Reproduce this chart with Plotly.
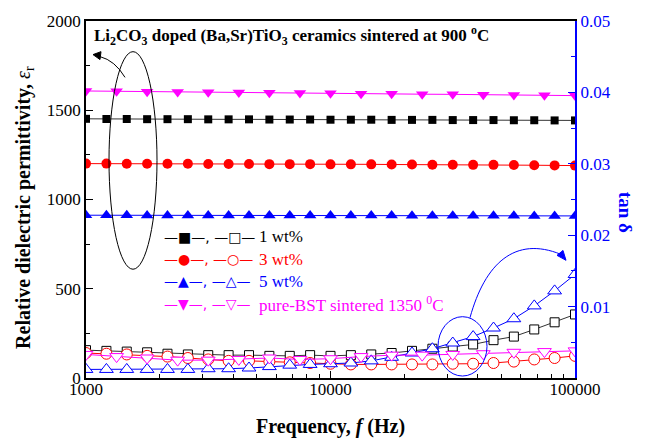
import plotly.graph_objects as go

# ---- data ----
freq25 = [1000, 1212, 1468, 1778, 2154, 2610, 3162, 3831, 4642, 5623, 6813, 8254,
          10000, 12115, 14678, 17783, 21544, 26102, 31623, 38312, 46416, 56234,
          68129, 82540, 100000]
freq17 = [1000, 1334, 1778, 2371, 3162, 4217, 5623, 7499, 10000, 13335, 17783,
          23714, 31623, 42170, 56234, 74989, 100000]

eps_1wt = [1452, 1451, 1451, 1450, 1450, 1450, 1449, 1449, 1449, 1448, 1448, 1448, 1447,
           1447, 1447, 1446, 1446, 1446, 1445, 1445, 1445, 1444, 1444, 1443, 1443]
eps_3wt = [1201, 1201, 1200, 1200, 1200, 1200, 1199, 1199, 1199, 1198, 1198, 1198, 1197,
           1197, 1197, 1196, 1196, 1195, 1195, 1194, 1194, 1193, 1192, 1191, 1190]
eps_5wt = [912, 912, 912, 911, 911, 911, 911, 911, 911, 910, 910, 910, 910,
           910, 910, 910, 909, 909, 909, 909, 909, 909, 908, 908, 908]
eps_bst = [1608, 1606, 1604, 1602, 1601, 1599, 1598, 1596, 1595, 1593, 1592, 1590,
           1589, 1587, 1586, 1584, 1582]

tan_1wt = [0.0039, 0.0038, 0.0037, 0.0036, 0.0034, 0.0033, 0.0032, 0.0032, 0.0032, 0.0031,
           0.0031, 0.0032, 0.0031, 0.0032, 0.0033, 0.0035, 0.0038, 0.0041, 0.0044, 0.0047,
           0.0053, 0.0058, 0.0068, 0.0078, 0.0089]
tan_3wt = [0.0035, 0.0034, 0.0033, 0.0031, 0.0030, 0.0028, 0.0026, 0.0024, 0.0024, 0.0023,
           0.0022, 0.0021, 0.0020, 0.0019, 0.0019, 0.0019, 0.0019, 0.0019, 0.0020, 0.0020,
           0.0021, 0.0023, 0.0026, 0.0028, 0.0031]
tan_5wt = [0.0012, 0.0012, 0.0012, 0.0012, 0.0012, 0.0012, 0.0013, 0.0013, 0.0014, 0.0016,
           0.0018, 0.0019, 0.0020, 0.0021, 0.0024, 0.0029, 0.0035, 0.0041, 0.0049, 0.0058,
           0.0070, 0.0083, 0.0101, 0.0122, 0.0145]
tan_bst = [0.0033, 0.0030, 0.0028, 0.0025, 0.0025, 0.0026, 0.0028, 0.0026, 0.0027, 0.0030,
           0.0032, 0.0032, 0.0033, 0.0034, 0.0036, 0.0037, 0.0038]

left_ticks = [0, 500, 1000, 1500, 2000]
right_ticks = [0.01, 0.02, 0.03, 0.04, 0.05]
x_ticks = [1000, 10000, 100000]
x_minor_ticks = [2000, 3000, 4000, 5000, 6000, 7000, 8000, 9000,
                 20000, 30000, 40000, 50000, 60000, 70000, 80000, 90000]

BLACK, RED, BLUE, MAG = "#000000", "#ff0000", "#0000ff", "#ff00ff"
FONT = "Liberation Serif"

fig = go.Figure()

series = [
    (freq25, eps_1wt, tan_1wt, BLACK, "#333333", "square", 8, 9),
    (freq25, eps_3wt, tan_3wt, RED, RED, "circle", 10, 11),
    (freq25, eps_5wt, tan_5wt, BLUE, BLUE, "triangle-up", 11, 12),
    (freq17, eps_bst, tan_bst, MAG, MAG, "triangle-down", 11, 12),
]

for fx, e, t, c, lc, sym, s1, s2 in series:
    fig.add_trace(go.Scatter(x=fx, y=t, yaxis="y2", mode="lines+markers",
                             line=dict(color=lc, width=1),
                             marker=dict(symbol=sym, size=s2, color="white",
                                         line=dict(color=c, width=1)),
                             showlegend=False))
for fx, e, t, c, lc, sym, s1, s2 in series:
    fig.add_trace(go.Scatter(x=fx, y=e, mode="lines+markers",
                             line=dict(color=lc, width=1),
                             marker=dict(symbol=sym, size=s1, color=c,
                                         line=dict(width=0)),
                             showlegend=False))

L, R, T, B = 86, 575, 17, 378


def px(x):
    return (x - L) / (R - L)


def py(y):
    return (B - y) / (B - T)


shapes = []
shapes.append(dict(type="circle", xref="paper", yref="paper",
                   x0=px(109), x1=px(157), y0=py(268), y1=py(48),
                   line=dict(color=BLACK, width=1)))
shapes.append(dict(type="circle", xref="paper", yref="paper",
                   x0=px(438), x1=px(487), y0=py(376), y1=py(316),
                   line=dict(color=BLUE, width=1)))
shapes.append(dict(type="path", xref="paper", yref="paper",
                   path=f"M {px(125)},{py(74)} Q {px(115)},{py(57)} {px(100)},{py(53)}",
                   line=dict(color=BLACK, width=1)))
shapes.append(dict(type="path", xref="paper", yref="paper",
                   path=f"M {px(93)},{py(51)} L {px(101)},{py(48)} L {px(100)},{py(56)} Z",
                   fillcolor=BLACK, line=dict(color=BLACK, width=1)))
shapes.append(dict(type="path", xref="paper", yref="paper",
                   path=f"M {px(470)},{py(317)} C {px(485)},{py(262)} {px(515)},{py(234)} {px(561)},{py(253)}",
                   line=dict(color=BLUE, width=1)))
shapes.append(dict(type="path", xref="paper", yref="paper",
                   path=f"M {px(566)},{py(259)} L {px(557)},{py(254)} L {px(563)},{py(249)} Z",
                   fillcolor=BLUE, line=dict(color=BLUE, width=1)))

ann = []
ann.append(dict(xref="paper", yref="paper", x=px(92), y=py(32), xanchor="left", yanchor="middle",
                showarrow=False,
                text="<b>Li<sub>2</sub>CO<sub>3</sub> doped (Ba,Sr)TiO<sub>3</sub> ceramics sintered at 900 <sup>o</sup>C</b>",
                font=dict(family=FONT, size=17, color=BLACK)))
legend_rows = [
    ("—■—, —□—", "1 wt%", BLACK, 235),
    ("—●—, —○—", "3 wt%", RED, 258),
    ("—▲—, —△—", "5 wt%", BLUE, 280),
    ("—▼—, —▽—", "pure-BST sintered 1350 <sup>0</sup>C", MAG, 303),
]
for sym, lab, c, yy in legend_rows:
    ann.append(dict(xref="paper", yref="paper", x=px(162), y=py(yy), xanchor="left", yanchor="middle",
                    showarrow=False, text=sym,
                    font=dict(family="DejaVu Sans", size=14, color=c)))
    ann.append(dict(xref="paper", yref="paper", x=px(257), y=py(yy), xanchor="left", yanchor="middle",
                    showarrow=False, text=lab,
                    font=dict(family=FONT, size=17, color=c)))
ann.append(dict(xref="paper", yref="paper", x=px(25), y=py(206), xanchor="center", yanchor="middle",
                showarrow=False, textangle=-90,
                text="<b>Relative dielectric permittivity, </b><i>ε</i><sub>r</sub>",
                font=dict(family=FONT, size=20, color=BLACK)))
ann.append(dict(xref="paper", yref="paper", x=px(330), y=py(427), xanchor="center", yanchor="middle",
                showarrow=False,
                text="<b>Frequency, <i>f</i> (Hz)</b>",
                font=dict(family=FONT, size=20, color=BLACK)))
ann.append(dict(xref="paper", yref="paper", x=px(625), y=py(210), xanchor="center", yanchor="middle",
                showarrow=False, textangle=90,
                text="<b>tan δ</b>",
                font=dict(family=FONT, size=19, color=BLUE)))

fig.update_layout(
    width=647, height=440,
    margin=dict(l=L, r=647 - R, t=T, b=440 - B),
    plot_bgcolor="white", paper_bgcolor="white",
    font=dict(family=FONT, size=17, color=BLACK),
    showlegend=False,
    shapes=shapes, annotations=ann,
    xaxis=dict(type="log", range=[3, 5], tickvals=x_ticks, ticktext=[str(v) for v in x_ticks],
               ticks="inside", ticklen=7, tickwidth=1, tickcolor=BLACK,
               ticklabelstandoff=-5,
               minor=dict(tickvals=x_minor_ticks, ticks="inside", ticklen=4,
                          tickcolor=BLACK, showgrid=False),
               showline=True, linecolor=BLACK, linewidth=1.5, mirror=True,
               showgrid=False, zeroline=False,
               tickfont=dict(family=FONT, size=17, color=BLACK)),
    yaxis=dict(range=[0, 2000], tickvals=left_ticks, ticks="inside", ticklen=7,
               tickcolor=BLACK,
               minor=dict(dtick=250, ticks="inside", ticklen=4, tickcolor=BLACK, showgrid=False),
               showline=True, linecolor=BLACK, linewidth=1.5,
               showgrid=False, zeroline=False,
               tickfont=dict(family=FONT, size=17, color=BLACK)),
    yaxis2=dict(range=[0, 0.05], overlaying="y", side="right", tickvals=right_ticks,
                tickformat=".2f", ticks="inside", ticklen=7, tickcolor=BLUE,
                minor=dict(dtick=0.005, ticks="inside", ticklen=4, tickcolor=BLUE, showgrid=False),
                showline=True, linecolor=BLUE, linewidth=2,
                showgrid=False, zeroline=False,
                tickfont=dict(family=FONT, size=17, color=BLUE)),
)

fig.write_html("out.html", config={"displayModeBar": False},
               post_script="document.body.style.margin='0';")
